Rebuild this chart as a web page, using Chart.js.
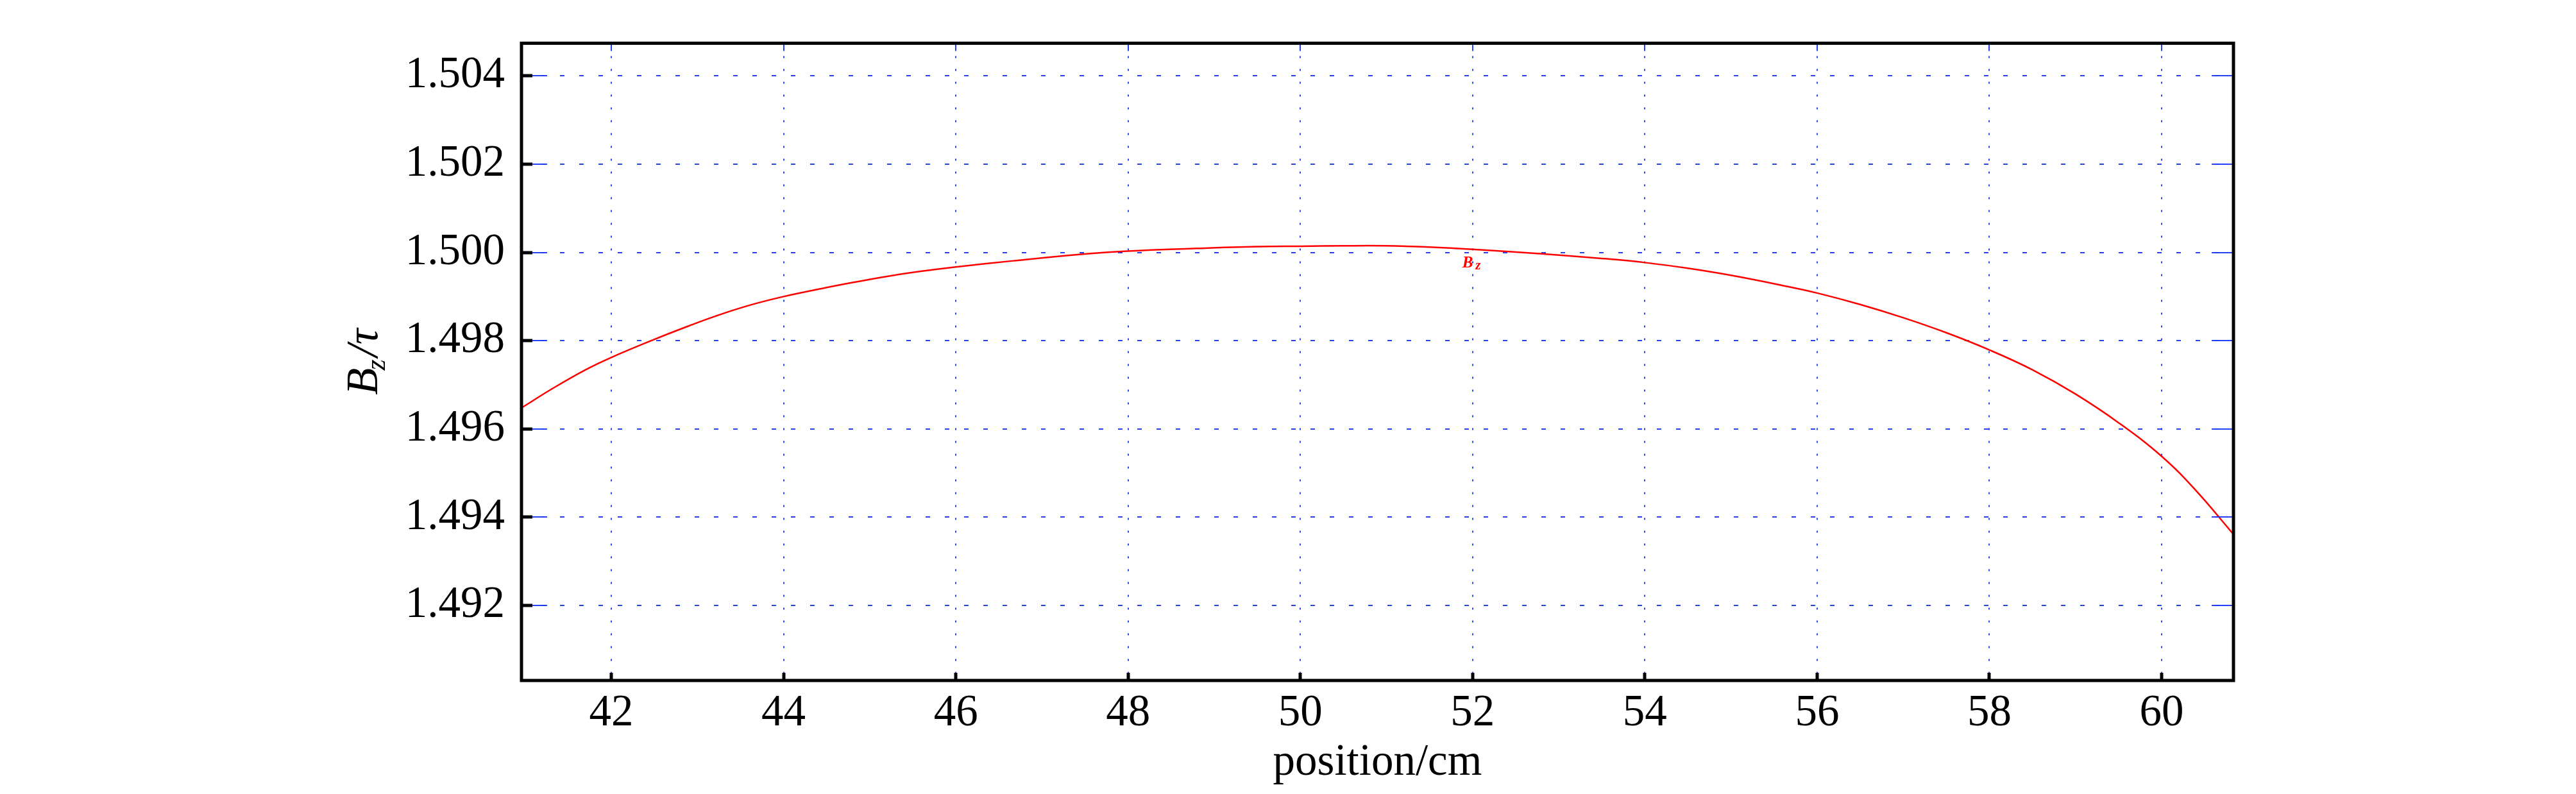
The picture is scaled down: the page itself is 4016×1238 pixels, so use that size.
<!DOCTYPE html>
<html lang="en">

<head>
    <meta charset="UTF-8">
    <style>
        html,
        body {
            margin: 0;
            padding: 0;
            background: #fff;
            overflow: hidden;
        }

        .chartBox {
            width: 4016px;
            height: 1238px;
        }
    </style>
    <title>Bz along position</title>
</head>

<body>
    <div class="chartBox">
        <canvas id="myChart"></canvas>
    </div>
    <script src="https://cdn.jsdelivr.net/npm/chart.js"></script>

    <script>
        // values
        const positions = [40.96, 41.33, 41.70, 42.0, 42.45, 42.8, 43.2, 43.6, 44.0, 44.44, 44.81, 45.18, 45.55, 46.0,
            46.67, 47.41, 48.0, 48.8, 49.5, 50.0, 50.5, 51.0, 51.5, 52.0, 52.78, 53.52, 54.0, 54.5, 55.0, 55.6, 56.0,
            56.5, 57.0, 57.5, 58.0, 58.5, 59.0, 59.5, 60.0, 60.4, 60.83];
        const bz = [1.49648, 1.49693, 1.49734, 1.49762, 1.49799, 1.49826, 1.49855, 1.49880, 1.49900, 1.49918, 1.49932,
            1.49945, 1.49956, 1.49967, 1.49981, 1.49995, 1.50003, 1.50009, 1.50013, 1.50014, 1.50015, 1.50015,
            1.50012, 1.50007, 1.49997, 1.49986, 1.49977, 1.49964, 1.49948, 1.49925, 1.49908,
            1.49882, 1.49852, 1.49818, 1.49779, 1.49734, 1.49679, 1.49614, 1.49538, 1.49460, 1.49362];
        const xTicks = [42, 44, 46, 48, 50, 52, 54, 56, 58, 60];
        const yTicks = [1.492, 1.494, 1.496, 1.498, 1.500, 1.502, 1.504];
        const xRange = [40.957, 60.834];
        const yRange = [1.4903, 1.50474];
        const xTitle = 'position/cm';
        const curveName = { main: 'B', sub: 'z' };
        const curveNameAt = { x: 51.88, y: 1.49966 };

        const gridBlue = 'rgba(25, 55, 245, 0.95)';
        const serif = '"Liberation Serif", "Times New Roman", serif';

        // box, inner tick marks, axis title with subscript, curve name
        const decorations = {
            id: 'decorations',
            afterDatasetsDraw(chart) {
                const { ctx, chartArea: a, scales: { x, y } } = chart;
                ctx.save();
                ctx.setLineDash([]);

                ctx.strokeStyle = gridBlue;
                ctx.lineWidth = 2;
                yTicks.forEach(v => {
                    const py = Math.round(y.getPixelForValue(v));
                    ctx.beginPath();
                    ctx.moveTo(a.left, py);
                    ctx.lineTo(a.left + 40, py);
                    ctx.moveTo(a.right, py);
                    ctx.lineTo(a.right - 34, py);
                    ctx.stroke();
                });
                xTicks.forEach(v => {
                    const px = Math.round(x.getPixelForValue(v));
                    ctx.beginPath();
                    ctx.moveTo(px, a.top);
                    ctx.lineTo(px, a.top + 12);
                    ctx.stroke();
                });

                ctx.strokeStyle = '#000';
                ctx.lineWidth = 5;
                yTicks.forEach(v => {
                    const py = Math.round(y.getPixelForValue(v));
                    ctx.beginPath();
                    ctx.moveTo(a.left, py);
                    ctx.lineTo(a.left + 17, py);
                    ctx.stroke();
                });
                xTicks.forEach(v => {
                    const px = Math.round(x.getPixelForValue(v));
                    ctx.beginPath();
                    ctx.moveTo(px, a.bottom);
                    ctx.lineTo(px, a.bottom - 12);
                    ctx.stroke();
                });
                ctx.strokeRect(a.left, a.top, a.right - a.left, a.bottom - a.top);

                // curve name inside the plot
                ctx.fillStyle = '#ff0000';
                ctx.textBaseline = 'alphabetic';
                ctx.textAlign = 'left';
                let lx = x.getPixelForValue(curveNameAt.x);
                const ly = y.getPixelForValue(curveNameAt.y);
                ctx.font = 'bold italic 25px ' + serif;
                ctx.fillText(curveName.main, lx, ly);
                lx += ctx.measureText(curveName.main).width + 4;
                ctx.font = 'bold italic 21px ' + serif;
                ctx.fillText(curveName.sub, lx, ly + 3);
                ctx.restore();
            },
            afterDraw(chart) {
                const { ctx, chartArea: a } = chart;
                ctx.save();
                ctx.fillStyle = '#000';
                ctx.textBaseline = 'alphabetic';
                ctx.textAlign = 'left';
                const big = 'italic 69px ' + serif;
                const small = 'italic 44px ' + serif;
                ctx.font = big;
                const wB = ctx.measureText('B').width;
                const wRest = ctx.measureText('/\u03C4').width;
                ctx.font = small;
                const wz = ctx.measureText('z').width;
                const total = wB + wz + wRest;
                ctx.translate(a.left - 225, (a.top + a.bottom) / 2);
                ctx.rotate(-Math.PI / 2);
                let cx = -total / 2;
                ctx.font = big;
                ctx.fillText('B', cx, 0);
                cx += wB;
                ctx.font = small;
                ctx.fillText('z', cx - 4, 12);
                cx += wz;
                ctx.font = big;
                ctx.fillText('/\u03C4', cx, 0);
                ctx.restore();
            }
        };

        const ctx = document.getElementById('myChart');

        new Chart(ctx, {
            type: 'line',
            data: {
                datasets: [{
                    label: 'Bz',
                    data: positions.map((p, i) => ({ x: p, y: bz[i] })),
                    borderColor: '#ff0000',
                    borderWidth: 2.5,
                    pointRadius: 0,
                    tension: 0.4,
                    fill: false
                }]
            },
            options: {
                responsive: true,
                maintainAspectRatio: false,
                animation: false,
                layout: {
                    padding: { left: 522, right: 534, top: 7, bottom: 0 }
                },
                plugins: {
                    legend: { display: false },
                    tooltip: { enabled: false }
                },
                scales: {
                    x: {
                        type: 'linear',
                        min: xRange[0],
                        max: xRange[1],
                        afterBuildTicks: (scale) => {
                            scale.ticks = xTicks.map(v => ({ value: v }));
                        },
                        afterFit: (scale) => {
                            scale.height = 177;
                        },
                        grid: {
                            color: gridBlue,
                            lineWidth: 2,
                            drawTicks: false
                        },
                        border: { display: false, dash: [3, 17] },
                        ticks: {
                            color: '#000',
                            padding: 10,
                            maxRotation: 0,
                            font: { family: serif, size: 69 },
                            callback: (v) => String(v)
                        },
                        title: {
                            display: true,
                            text: xTitle,
                            color: '#000',
                            padding: { top: 0, bottom: 7 },
                            font: { family: serif, size: 69 }
                        }
                    },
                    y: {
                        min: yRange[0],
                        max: yRange[1],
                        afterBuildTicks: (scale) => {
                            scale.ticks = yTicks.map(v => ({ value: v }));
                        },
                        afterFit: (scale) => {
                            scale.width = 291;
                        },
                        grid: {
                            color: gridBlue,
                            lineWidth: 2,
                            drawTicks: false
                        },
                        border: { display: false, dash: [7, 23] },
                        ticks: {
                            color: '#000',
                            padding: 26,
                            font: { family: serif, size: 69 },
                            callback: (v) => v.toFixed(3)
                        }
                    }
                }
            },
            plugins: [decorations]
        });
    </script>

</body>

</html>
